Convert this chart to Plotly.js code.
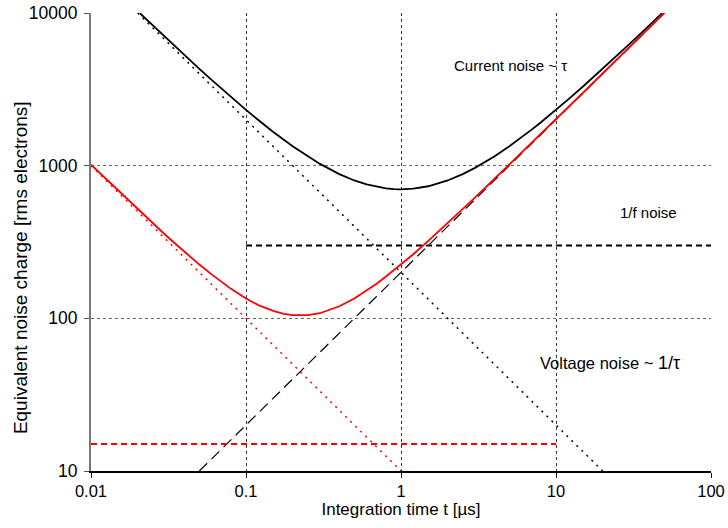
<!DOCTYPE html>
<html>
<head>
<meta charset="utf-8">
<script src="https://cdn.plot.ly/plotly-3.0.1.min.js"></script>
<style>html,body{margin:0;padding:0;background:#fff;}#chart{width:728px;height:528px;}</style>
</head>
<body>
<div id="chart"></div>
<script>
// Total noise, slow system (black solid)
const blackTotalT = [0.0206, 0.025, 0.03, 0.035, 0.04, 0.05, 0.06, 0.07, 0.08, 0.1, 0.12, 0.15, 0.2, 0.25, 0.3, 0.4, 0.5, 0.6, 0.7, 0.8, 0.9, 1, 1.2, 1.5, 2, 2.5, 3, 4, 5, 6, 7, 8, 10, 12, 15, 20, 25, 30, 40, 48.5];
const blackTotalQ = [10000, 8305, 6973, 6021, 5308, 4310, 3645, 3171, 2816, 2320, 1991, 1663, 1340, 1150, 1027, 880, 800, 753, 726, 710, 702, 700, 707, 733, 800, 880, 967, 1150, 1340, 1533, 1729, 1925, 2320, 2717, 3313, 4310, 5308, 6307, 8305, 10004];
// Total noise, fast system (red solid)
const redTotalT = [0.01, 0.0125, 0.015, 0.0175, 0.02, 0.025, 0.03, 0.035, 0.04, 0.05, 0.06, 0.07, 0.08, 0.1, 0.12, 0.15, 0.175, 0.2, 0.225, 0.25, 0.3, 0.35, 0.4, 0.5, 0.6, 0.7, 0.8, 1, 1.2, 1.5, 2, 2.5, 3, 4, 5, 7, 10, 15, 20, 25, 30, 40, 49.9];
const redTotalQ = [1015, 818, 685, 590, 519, 420, 354, 308, 273, 225, 194, 172, 156, 135, 122, 112, 107, 105, 104.4, 105, 108, 114, 120, 135, 152, 169, 188, 225, 263, 322, 420, 519, 618, 818, 1017, 1416, 2016, 3015, 4015, 5015, 6015, 8015, 9995];
// Voltage noise ~ 1/tau (black dotted, red dotted)
const voltBlackT = [0.02, 20];
const voltBlackQ = [10000, 10];
const voltRedT = [0.01, 1];
const voltRedQ = [1000, 10];
// Current noise ~ tau (black long dash)
const currT = [0.05, 50];
const currQ = [10, 10000];
// 1/f noise (flat)
const fBlackT = [0.1, 100];
const fBlackQ = [300, 300];
const fRedT = [0.01, 10];
const fRedQ = [15, 15];

const xTicks = [0.01, 0.1, 1, 10, 100];
const xTickText = ["0.01", "0.1", "1", "10", "100"];
const yTicks = [10, 100, 1000, 10000];
const yTickText = ["10", "100", "1000", "10000"];

const FONT = "Liberation Sans, Arial, sans-serif";

const traces = [
  {x: voltBlackT, y: voltBlackQ, mode: "lines", line: {color: "#000", width: 1.5, dash: "2px,5px"}, hoverinfo: "skip"},
  {x: currT, y: currQ, mode: "lines", line: {color: "#000", width: 1.2, dash: "11px,6px"}, hoverinfo: "skip"},
  {x: fBlackT, y: fBlackQ, mode: "lines", line: {color: "#000", width: 2, dash: "6px,4px"}, hoverinfo: "skip"},
  {x: voltRedT, y: voltRedQ, mode: "lines", line: {color: "#ff0000", width: 1.5, dash: "2px,5px"}, hoverinfo: "skip"},
  {x: fRedT, y: fRedQ, mode: "lines", line: {color: "#ff0000", width: 2, dash: "6px,4px"}, hoverinfo: "skip"},
  {x: blackTotalT, y: blackTotalQ, mode: "lines", line: {color: "#000", width: 1.8}, hoverinfo: "skip"},
  {x: redTotalT, y: redTotalQ, mode: "lines", line: {color: "#ff0000", width: 1.8}, hoverinfo: "skip"}
];

const layout = {
  width: 728, height: 528,
  margin: {l: 91, r: 17, t: 13, b: 57},
  paper_bgcolor: "#fff", plot_bgcolor: "#fff",
  showlegend: false,
  font: {family: FONT, color: "#000", size: 16},
  xaxis: {
    type: "log", range: [-2, 2],
    tickvals: xTicks, ticktext: xTickText,
    showgrid: true, gridcolor: "#333", griddash: "3px,3px", gridwidth: 1,
    showline: true, linecolor: "#000", linewidth: 1.5,
    ticks: "outside", ticklen: 5, tickcolor: "#000",
    zeroline: false,
    tickfont: {family: FONT, size: 16.5, color: "#000"},
    title: {text: "Integration time t [µs]", font: {family: FONT, size: 17, color: "#000"}, standoff: 0}
  },
  yaxis: {
    type: "log", range: [1, 4],
    tickvals: yTicks, ticktext: yTickText,
    showgrid: true, gridcolor: "#666", griddash: "3px,3px", gridwidth: 1,
    showline: true, linecolor: "#777", linewidth: 2,
    ticks: "outside", ticklen: 5, tickcolor: "#555",
    ticklabelstandoff: 3,
    zeroline: false,
    tickfont: {family: FONT, size: 17.5, color: "#000"}
  },
  annotations: [
    {x: -0.1145, y: 0.443, xref: "paper", yref: "paper", xanchor: "center", yanchor: "middle", textangle: -90, text: "Equivalent noise charge [rms electrons]", showarrow: false, font: {family: FONT, size: 19, color: "#000"}},
    {x: Math.log10(5.05), y: Math.log10(4560), xref: "x", yref: "y", text: "Current noise ~ τ", showarrow: false, font: {family: FONT, size: 15, color: "#000"}},
    {x: Math.log10(39.8), y: Math.log10(490), xref: "x", yref: "y", text: "1/f noise", showarrow: false, font: {family: FONT, size: 15, color: "#000"}},
    {x: Math.log10(22.3), y: Math.log10(50.9), xref: "x", yref: "y", text: "Voltage noise ~ <span style='font-size:18px'>1/τ</span>", showarrow: false, font: {family: FONT, size: 16.5, color: "#000"}}
  ]
};

Plotly.newPlot("chart", traces, layout, {staticPlot: true, displayModeBar: false});
</script>
</body>
</html>
